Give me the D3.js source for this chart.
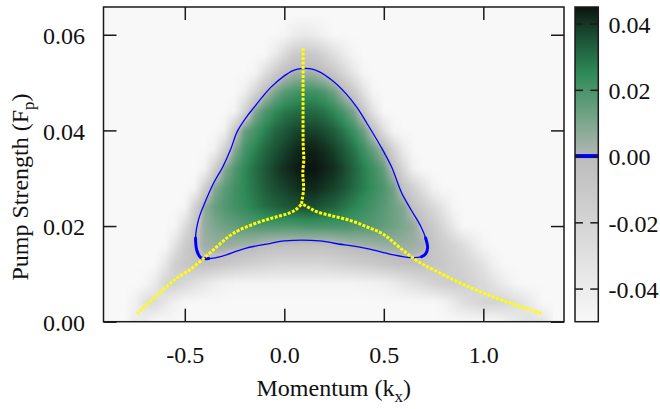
<!DOCTYPE html>
<html>
<head>
<meta charset="utf-8">
<script src="https://cdn.jsdelivr.net/npm/d3@7"></script>
<style>
  body { margin: 0; background: #fff; }
  svg { display: block; }
  text { font-family: "Liberation Serif", "Times New Roman", serif; }
</style>
</head>
<body>
<div id="chart"></div>
<script>
// grid of the map: momentum columns and pump strength rows
const kGrid = [-0.85, -0.8, -0.75, -0.7, -0.65, -0.6, -0.55, -0.5, -0.45, -0.4,
               -0.35, -0.3, -0.25, -0.2, -0.15, -0.1, -0.05, 0.0, 0.05, 0.1,
               0.15, 0.2, 0.25, 0.3, 0.35, 0.4, 0.45, 0.5, 0.55, 0.6,
               0.65, 0.7, 0.75, 0.8, 0.85, 0.9, 0.95, 1.0, 1.05, 1.1,
               1.15, 1.2, 1.25, 1.3, 1.35];
const fGrid = [0, 0.004, 0.008, 0.012, 0.016, 0.020, 0.024, 0.028, 0.032,
               0.036, 0.040, 0.044, 0.048, 0.052, 0.056, 0.060, 0.064];

// map values (units of 1e-3), one row per F level from F = 0 upwards
const fieldRows = [
  [-50,-50,-40,-42,-50, -50,-50,-50,-50,-50, -50,-50,-50,-50,-50, -50,-50,-50,-50,-50, -50,-50,-50,-50,-50, -50,-50,-50,-50,-50, -50,-50,-50,-50,-50, -50,-50,-50,-50,-46, -40,-34,-30,-34,-46],
  [-50,-50,-44,-30,-26, -36,-44,-50,-50,-50, -50,-50,-50,-50,-50, -50,-50,-50,-50,-50, -50,-50,-50,-50,-50, -50,-50,-50,-50,-50, -50,-50,-50,-46,-38, -30,-25,-21,-20,-22, -27,-33,-42,-50,-50],
  [-50,-50,-50,-48,-38, -22,-18,-24,-30,-36, -42,-45,-47,-47,-47, -47,-47,-47,-47,-47, -47,-47,-47,-47,-47, -46,-45,-44,-40,-34, -30,-25,-20,-16,-15, -16,-20,-25,-32,-40, -47,-50,-50,-50,-50],
  [-50,-50,-50,-50,-50, -36,-16,-10, -6, -5,  -7,-10,-13,-16,-18, -20,-22,-23,-23,-23, -23,-22,-20,-18,-16, -14,-12, -9, -7, -5,  -4, -5, -8,-11,-15, -19,-25,-33,-44,-50, -50,-50,-50,-50,-50],
  [-50,-50,-50,-50,-50, -50,-32,-14, -4,  4,   5,  5,  4,  3,  2,  -1, -2, -3, -3, -3,  -3, -3, -2,  0,  2,   3,  4,  5,  5,  5,   4,  2, -8,-14,-20, -28,-38,-47,-50,-50, -50,-50,-50,-50,-50],
  [-50,-50,-50,-50,-50, -50,-48,-28, -8,  6,  10, 13, 15, 17, 18,  19, 19, 19, 19, 20,  20, 20, 20, 20, 19,  18, 17, 15, 13, 10,   6, -4,-12,-24,-38, -50,-50,-50,-50,-50, -50,-50,-50,-50,-50],
  [-50,-50,-50,-50,-50, -50,-50,-48,-18,  6,  14, 18, 21, 24, 27,  30, 32, 34, 35, 36,  36, 34, 32, 29, 26,  23, 20, 17, 13,  9,  -5,-14,-24,-36,-48, -50,-50,-50,-50,-50, -50,-50,-50,-50,-50],
  [-50,-50,-50,-50,-50, -50,-50,-50,-48,-16,   8, 16, 21, 25, 29,  33, 36, 38, 40, 42,  42, 40, 38, 35, 31,  27, 23, 19, 12, -6, -18,-32,-46,-50,-50, -50,-50,-50,-50,-50, -50,-50,-50,-50,-50],
  [-50,-50,-50,-50,-50, -50,-50,-50,-50,-46, -16,  8, 18, 25, 30,  34, 38, 41, 43, 45,  45, 43, 41, 37, 32,  27, 22, 15, -3,-24, -44,-50,-50,-50,-50, -50,-50,-50,-50,-50, -50,-50,-50,-50,-50],
  [-50,-50,-50,-50,-50, -50,-50,-50,-50,-50, -44,-18,  8, 20, 26,  31, 35, 38, 41, 43,  43, 41, 38, 34, 29,  22, 14,  2,-20,-40, -50,-50,-50,-50,-50, -50,-50,-50,-50,-50, -50,-50,-50,-50,-50],
  [-50,-50,-50,-50,-50, -50,-50,-50,-50,-50, -50,-45,-10, 14, 20,  26, 31, 34, 37, 38,  38, 36, 33, 28, 22,  13, -6,-30,-48,-50, -50,-50,-50,-50,-50, -50,-50,-50,-50,-50, -50,-50,-50,-50,-50],
  [-50,-50,-50,-50,-50, -50,-50,-50,-50,-50, -50,-50,-46,-20,  8,  18, 24, 28, 30, 31,  31, 29, 25, 19, 10, -10,-34,-50,-50,-50, -50,-50,-50,-50,-50, -50,-50,-50,-50,-50, -50,-50,-50,-50,-50],
  [-50,-50,-50,-50,-50, -50,-50,-50,-50,-50, -50,-50,-50,-42,-22,  -2, 10, 17, 20, 22,  22, 19, 13,  1,-12, -32,-48,-50,-50,-50, -50,-50,-50,-50,-50, -50,-50,-50,-50,-50, -50,-50,-50,-50,-50],
  [-50,-50,-50,-50,-50, -50,-50,-50,-50,-50, -50,-50,-50,-50,-48, -30,-14, -3,  3,  4,   3, -2,-10,-22,-36, -48,-50,-50,-50,-50, -50,-50,-50,-50,-50, -50,-50,-50,-50,-50, -50,-50,-50,-50,-50],
  [-50,-50,-50,-50,-50, -50,-50,-50,-50,-50, -50,-50,-50,-50,-50, -50,-40,-26,-14,-10, -12,-20,-30,-40,-48, -50,-50,-50,-50,-50, -50,-50,-50,-50,-50, -50,-50,-50,-50,-50, -50,-50,-50,-50,-50],
  [-50,-50,-50,-50,-50, -50,-50,-50,-50,-50, -50,-50,-50,-50,-50, -50,-50,-48,-40,-38, -40,-45,-50,-50,-50, -50,-50,-50,-50,-50, -50,-50,-50,-50,-50, -50,-50,-50,-50,-50, -50,-50,-50,-50,-50],
  [-50,-50,-50,-50,-50, -50,-50,-50,-50,-50, -50,-50,-50,-50,-50, -50,-50,-50,-50,-50, -50,-50,-50,-50,-50, -50,-50,-50,-50,-50, -50,-50,-50,-50,-50, -50,-50,-50,-50,-50, -50,-50,-50,-50,-50]
];

// zero contour (blue), [k, F]
const zeroContour = [
  [-0.42, 0.0134], [-0.44, 0.0150], [-0.446, 0.0175], [-0.43, 0.0215], [-0.40, 0.0248],
  [-0.355, 0.029], [-0.31, 0.0323], [-0.27, 0.036], [-0.236, 0.0398], [-0.19, 0.0428],
  [-0.152, 0.0448], [-0.11, 0.047], [-0.068, 0.049], [0.0, 0.0514], [0.057, 0.0527],
  [0.15, 0.0527], [0.233, 0.0507], [0.31, 0.0477], [0.365, 0.0448], [0.415, 0.0415],
  [0.466, 0.038], [0.50, 0.0355], [0.54, 0.0323], [0.59, 0.0269], [0.64, 0.0232],
  [0.685, 0.020], [0.71, 0.0175], [0.72, 0.0155], [0.71, 0.0142], [0.69, 0.0136],
  [0.635, 0.0134], [0.535, 0.0141], [0.417, 0.0153], [0.25, 0.0164], [0.18, 0.0169],
  [0.0, 0.0169], [-0.068, 0.0164], [-0.2, 0.0153], [-0.32, 0.0136], [-0.38, 0.0132]
];

// yellow branches, [k, F]
const branchTop = [[0.095, 0.0572], [0.095, 0.037], [0.098, 0.034], [0.093, 0.031],
                   [0.097, 0.028], [0.09, 0.0255], [0.085, 0.0245]];
const branchLeft = [[0.085, 0.0245], [0.06, 0.0235], [0.03, 0.0228], [-0.05, 0.0218],
                    [-0.122, 0.0209], [-0.256, 0.0185], [-0.33, 0.016], [-0.39, 0.0138],
                    [-0.47, 0.011], [-0.54, 0.0091], [-0.64, 0.0055], [-0.74, 0.0017]];
const branchRight = [[0.095, 0.0245], [0.13, 0.0237], [0.163, 0.023], [0.233, 0.0222],
                     [0.33, 0.0212], [0.417, 0.0198], [0.497, 0.0183], [0.585, 0.0153],
                     [0.665, 0.0128], [0.752, 0.0108], [0.92, 0.0074], [1.087, 0.0046],
                     [1.2, 0.003], [1.295, 0.0017]];

const xTicks = [-0.5, 0.0, 0.5, 1.0];
const yTicks = [0.00, 0.02, 0.04, 0.06];
const cbTicks = [-0.04, -0.02, 0.00, 0.02, 0.04];

const width = 660, height = 409;
const plotLeft = 103.5, plotRight = 564, plotTop = 7, plotBottom = 321.7;

const svg = d3.select("#chart").append("svg")
  .attr("width", width)
  .attr("height", height);

const x = d3.scaleLinear().domain([-0.9085, 1.4055]).range([plotLeft, plotRight]);
const y = d3.scaleLinear().domain([0, 0.0658]).range([plotBottom, plotTop]);

const color = d3.scaleLinear()
  .domain([-0.05, -0.0001, 0, 0.01, 0.025, 0.036, 0.045])
  .range(["#f8f8f8", "#bcbcbc", "#b2b6b3", "#7da78e", "#2f8a58", "#1b4f33", "#0b140f"])
  .clamp(true);

svg.append("clipPath").attr("id", "plotclip")
  .append("rect")
  .attr("x", plotLeft).attr("y", plotTop)
  .attr("width", plotRight - plotLeft).attr("height", plotBottom - plotTop);

svg.append("rect")
  .attr("x", plotLeft).attr("y", plotTop)
  .attr("width", plotRight - plotLeft).attr("height", plotBottom - plotTop)
  .attr("fill", color(-0.05));

// shade the grid smoothly (bilinear between grid nodes) onto a canvas
const nk = kGrid.length, nf = fGrid.length, sub = 8;
const cw = (nk - 1) * sub, ch = (nf - 1) * sub;
const canvas = document.createElement("canvas");
canvas.width = cw;
canvas.height = ch;
const ctx = canvas.getContext("2d");
const img = ctx.createImageData(cw, ch);
for (let py = 0; py < ch; py++) {
  const fy = (ch - py - 0.5) / sub, j = Math.min(Math.floor(fy), nf - 2), ty = fy - j;
  for (let px = 0; px < cw; px++) {
    const fx = (px + 0.5) / sub, i = Math.min(Math.floor(fx), nk - 2), tx = fx - i;
    const v = (fieldRows[j][i] * (1 - tx) + fieldRows[j][i + 1] * tx) * (1 - ty)
            + (fieldRows[j + 1][i] * (1 - tx) + fieldRows[j + 1][i + 1] * tx) * ty;
    const c = d3.rgb(color(v / 1000));
    const p = (py * cw + px) * 4;
    img.data[p] = c.r;
    img.data[p + 1] = c.g;
    img.data[p + 2] = c.b;
    img.data[p + 3] = 255;
  }
}
ctx.putImageData(img, 0, 0);

svg.append("g").attr("clip-path", "url(#plotclip)")
  .append("image")
  .attr("href", canvas.toDataURL())
  .attr("x", x(kGrid[0]))
  .attr("y", y(fGrid[nf - 1]))
  .attr("width", x(kGrid[nk - 1]) - x(kGrid[0]))
  .attr("height", y(fGrid[0]) - y(fGrid[nf - 1]))
  .attr("preserveAspectRatio", "none");

const line = d3.line()
  .x(d => x(d[0]))
  .y(d => y(d[1]));

const lines = svg.append("g").attr("clip-path", "url(#plotclip)");

lines.append("path")
  .attr("d", line.curve(d3.curveCatmullRomClosed.alpha(0.5))(zeroContour))
  .attr("fill", "none")
  .attr("stroke", "#0000ff")
  .attr("stroke-width", 1.3);

// the contour is drawn heavier round its two lower corners
line.curve(d3.curveCatmullRom.alpha(0.5));
const kneeLeft = [zeroContour[39], zeroContour[0], zeroContour[1], zeroContour[2]];
const kneeRight = zeroContour.slice(26, 30);
[kneeLeft, kneeRight].forEach(function(b) {
  lines.append("path")
    .attr("d", line(b))
    .attr("fill", "none")
    .attr("stroke", "#0000ff")
    .attr("stroke-width", 3)
    .attr("stroke-linecap", "round");
});

[branchTop, branchLeft, branchRight].forEach(function(b) {
  lines.append("path")
    .attr("d", line(b))
    .attr("fill", "none")
    .attr("stroke", "#ffff00")
    .attr("stroke-width", 3)
    .attr("stroke-dasharray", "3,1.5");
});

// axes with inward ticks, plain hyphen for negatives
const locale = d3.formatLocale({decimal: ".", thousands: ",", grouping: [3], currency: ["", ""], minus: "-"});
const fmtX = locale.format(".1f"), fmtY = locale.format(".2f");

svg.append("g")
  .attr("transform", "translate(0," + plotBottom + ")")
  .call(d3.axisBottom(x).tickValues(xTicks).tickSize(-13).tickPadding(24).tickFormat(fmtX));
svg.append("g")
  .attr("transform", "translate(0," + plotTop + ")")
  .call(d3.axisTop(x).tickValues(xTicks).tickSize(-13).tickFormat(""));

const yAxis = svg.append("g")
  .attr("transform", "translate(" + plotLeft + ",0)")
  .call(d3.axisLeft(y).tickValues(yTicks).tickSize(-13).tickPadding(18.5).tickFormat(fmtY));
svg.append("g")
  .attr("transform", "translate(" + plotRight + ",0)")
  .call(d3.axisRight(y).tickValues(yTicks).tickSize(-13).tickFormat(""));

yAxis.selectAll("text").attr("dy", "0.37em");

svg.append("rect")
  .attr("x", plotLeft).attr("y", plotTop)
  .attr("width", plotRight - plotLeft).attr("height", plotBottom - plotTop)
  .attr("fill", "none")
  .attr("stroke", "#1a1a1a")
  .attr("stroke-width", 1.5);

// colour bar
const cbLeft = 575, cbRight = 598.3;
const cb = d3.scaleLinear().domain([-0.05, 0.045]).range([plotBottom, plotTop]);

svg.append("g").selectAll("rect")
  .data(d3.range(plotTop, plotBottom, 1))
  .enter()
  .append("rect")
  .attr("x", cbLeft)
  .attr("y", d => d)
  .attr("width", cbRight - cbLeft)
  .attr("height", 1.2)
  .attr("fill", d => color(cb.invert(d + 0.5)));

svg.append("line")
  .attr("x1", cbLeft).attr("x2", cbRight)
  .attr("y1", cb(0)).attr("y2", cb(0))
  .attr("stroke", "#0000ff")
  .attr("stroke-width", 4);

const cbAxis = svg.append("g")
  .attr("transform", "translate(" + cbRight + ",0)")
  .call(d3.axisRight(cb).tickValues(cbTicks).tickSize(-8).tickPadding(10.2).tickFormat(fmtY));
svg.append("g")
  .attr("transform", "translate(" + cbLeft + ",0)")
  .call(d3.axisLeft(cb).tickValues(cbTicks).tickSize(-8).tickFormat(""));

cbAxis.selectAll("text").attr("dy", "0.37em");

svg.append("rect")
  .attr("x", cbLeft).attr("y", plotTop)
  .attr("width", cbRight - cbLeft).attr("height", plotBottom - plotTop)
  .attr("fill", "none")
  .attr("stroke", "#1a1a1a")
  .attr("stroke-width", 1.5);

svg.selectAll(".domain").remove();
svg.selectAll(".tick line").attr("stroke", "#1a1a1a").attr("stroke-width", 1.5);
svg.selectAll(".tick text")
  .attr("fill", "#111")
  .style("font-size", "24px")
  .style("font-family", "'Liberation Serif', 'Times New Roman', serif");

// axis titles
const xTitle = svg.append("text")
  .attr("transform", "translate(" + ((plotLeft + plotRight) / 2) + ",396)")
  .attr("text-anchor", "middle")
  .attr("fill", "#111")
  .style("font-size", "24px");
xTitle.append("tspan").text("Momentum (k");
xTitle.append("tspan").attr("dy", 6).style("font-size", "17px").text("x");
xTitle.append("tspan").attr("dy", -6).text(")");

const yTitle = svg.append("text")
  .attr("transform", "translate(28,187) rotate(-90)")
  .attr("text-anchor", "middle")
  .attr("fill", "#111")
  .style("font-size", "24px");
yTitle.append("tspan").text("Pump Strength (F");
yTitle.append("tspan").attr("dy", 6).style("font-size", "17px").text("p");
yTitle.append("tspan").attr("dy", -6).text(")");
</script>
</body>
</html>
